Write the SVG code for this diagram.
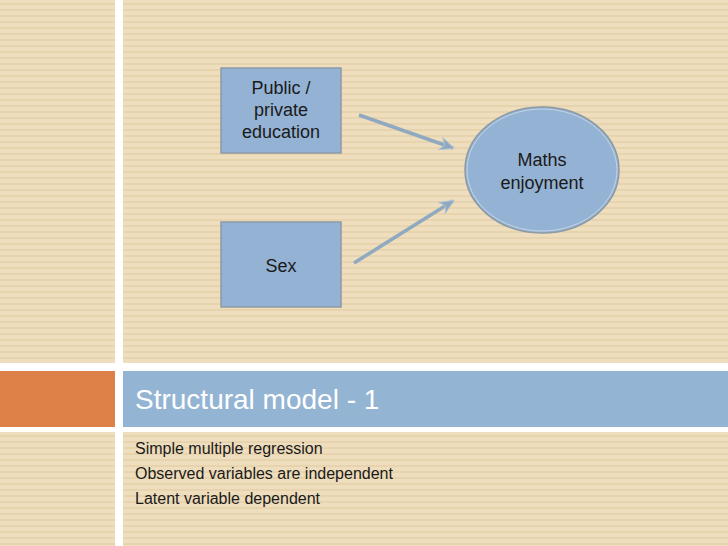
<svg xmlns="http://www.w3.org/2000/svg" width="728" height="546" viewBox="0 0 728 546">
  <defs>
    <pattern id="stripes" x="0" y="0" width="8" height="6" patternUnits="userSpaceOnUse">
      <rect width="8" height="6" fill="#EFDEBD"/>
      <rect y="3" width="8" height="2" fill="#E7D3AE"/>
    </pattern>
    <marker id="arrow" viewBox="0 0 10 10" refX="9" refY="5" markerWidth="4.5" markerHeight="4.5" orient="auto" markerUnits="strokeWidth">
      <path d="M0.5,0.8 L10,5 L0.5,9.2 L3.5,5 Z" fill="#8FA9C0" stroke="#B4C6D6" stroke-width="0.5" stroke-linejoin="round"/>
    </marker>
  </defs>
  <style>
    .node { fill: #94B2D3; stroke: #8C9AA6; stroke-width: 1.5; }
    .lbl { font-family: "Liberation Sans", Arial, sans-serif; font-size: 18px; fill: #1a1a1a; text-anchor: middle; }
    .conn { stroke: #8FA9C0; stroke-width: 3.5; fill: none; marker-end: url(#arrow); }
    .title { font-family: "Liberation Sans", Arial, sans-serif; font-size: 28px; fill: #ffffff; }
    .body { font-family: "Liberation Sans", Arial, sans-serif; font-size: 16px; fill: #1a1a1a; }
  </style>
  <rect width="728" height="546" fill="url(#stripes)"/>
  <rect x="115" y="0" width="8" height="546" fill="#ffffff"/>
  <rect x="0" y="363" width="728" height="69" fill="#ffffff"/>
  <rect x="0" y="371" width="115" height="56" fill="#DE8148"/>
  <rect x="123" y="371" width="605" height="56" fill="#94B4D4"/>

  <g id="connectors">
    <line class="conn" x1="359" y1="115" x2="453" y2="148"/>
    <line class="conn" x1="354" y1="263" x2="453" y2="201"/>
  </g>

  <g id="node-public">
    <rect class="node" x="221" y="68" width="120" height="85"/>
    <text class="lbl" x="281" y="94">Public /</text>
    <text class="lbl" x="281" y="116">private</text>
    <text class="lbl" x="281" y="138">education</text>
  </g>
  <g id="node-sex">
    <rect class="node" x="221" y="222" width="120" height="85"/>
    <text class="lbl" x="281" y="272">Sex</text>
  </g>
  <g id="node-maths">
    <ellipse class="node" cx="542" cy="170" rx="77" ry="63" stroke="#7F98AE" stroke-width="1.5"/>
    <ellipse cx="542" cy="170" rx="75" ry="61" fill="none" stroke="#C4D5E6" stroke-width="1"/>
    <text class="lbl" x="542" y="166">Maths</text>
    <text class="lbl" x="542" y="189">enjoyment</text>
  </g>

  <text class="title" x="135" y="409">Structural model - 1</text>
  <text class="body" x="135" y="454">Simple multiple regression</text>
  <text class="body" x="135" y="479">Observed variables are independent</text>
  <text class="body" x="135" y="504">Latent variable dependent</text>
</svg>
